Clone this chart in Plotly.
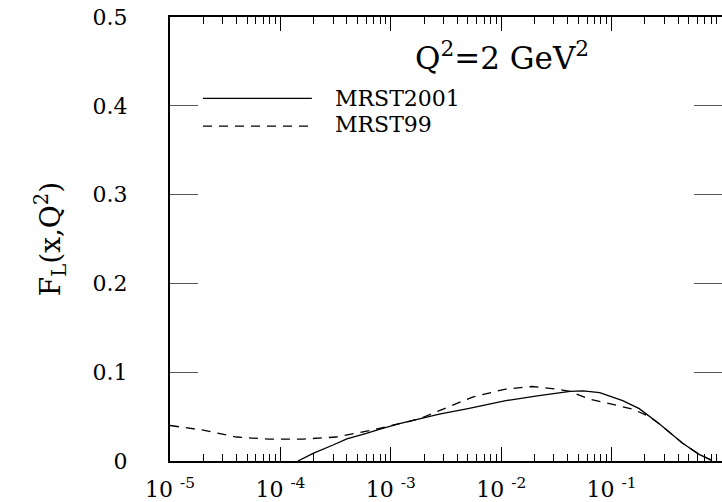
import plotly.graph_objects as go

# F_L(x, Q^2) at Q^2 = 2 GeV^2 for two parton-distribution sets
x_mrst2001 = [1.44e-4, 2.0e-4, 3.0e-4, 4.0e-4, 6.0e-4, 8.0e-4, 1.2e-3, 1.8e-3,
              2.75e-3, 5.0e-3, 1.1e-2, 2.2e-2, 4.2e-2, 5.5e-2, 7.8e-2, 0.126,
              0.178, 0.27, 0.44, 0.62, 0.80]
fl_mrst2001 = [0.0, 0.0089, 0.018, 0.025, 0.031, 0.036, 0.042, 0.0473,
               0.0529, 0.059, 0.068, 0.0735, 0.0783, 0.079, 0.077, 0.068,
               0.059, 0.042, 0.020, 0.0075, 0.001]

x_mrst99 = [1e-5, 2e-5, 4e-5, 8e-5, 1.6e-4, 3.2e-4, 6.5e-4, 1.2e-3, 1.8e-3,
            2.75e-3, 5.5e-3, 1.1e-2, 1.9e-2, 3.2e-2, 4.2e-2, 6.3e-2, 0.1,
            0.155, 0.22, 0.27, 0.44, 0.62, 0.80]
fl_mrst99 = [0.040, 0.0347, 0.027, 0.0246, 0.0246, 0.027, 0.0343, 0.042, 0.0473,
             0.0567, 0.072, 0.081, 0.0839, 0.081, 0.0783, 0.0697, 0.064,
             0.0585, 0.050, 0.042, 0.020, 0.0075, 0.001]

x_major = [1e-5, 1e-4, 1e-3, 1e-2, 1e-1, 1]
x_labels = ["10&nbsp;<sup>-5</sup>", "10&nbsp;<sup>-4</sup>", "10&nbsp;<sup>-3</sup>",
            "10&nbsp;<sup>-2</sup>", "10&nbsp;<sup>-1</sup>", "1"]
x_minor = [m * 10.0 ** e for e in range(-5, 0) for m in range(2, 10)]

y_major = [0, 0.1, 0.2, 0.3, 0.4, 0.5]
y_labels = ["0", "0.1", "0.2", "0.3", "0.4", "0.5"]

series_names = ["MRST2001", "MRST99"]
panel_title = "Q<sup>2</sup>=2 GeV<sup>2</sup>"

FONT = "DejaVu Serif"

fig = go.Figure()
fig.add_trace(go.Scatter(x=x_mrst2001, y=fl_mrst2001, mode="lines",
                         name=series_names[0],
                         line=dict(color="black", width=1.3)))
fig.add_trace(go.Scatter(x=x_mrst99, y=fl_mrst99, mode="lines",
                         name=series_names[1],
                         line=dict(color="black", width=1.3, dash="9px,7px")))
# carrier trace so the mirrored top/right axes get drawn
fig.add_trace(go.Scatter(x=x_mrst99, y=fl_mrst99, mode="lines", xaxis="x2", yaxis="y2",
                         opacity=0, hoverinfo="skip", showlegend=False))

common_x = dict(type="log", range=[-5, 0], tickvals=x_major, ticks="inside",
                ticklen=14, tickwidth=1, tickcolor="black", showgrid=False,
                zeroline=False, linecolor="black", linewidth=2, showline=True,
                minor=dict(tickvals=x_minor, ticks="inside", ticklen=7,
                           tickwidth=1, tickcolor="black", showgrid=False))

fig.update_layout(
    width=722, height=502,
    margin=dict(l=170, r=0, t=17, b=38),
    paper_bgcolor="white", plot_bgcolor="white",
    showlegend=False,
    font=dict(family=FONT, color="black"),
    xaxis=dict(**common_x, ticktext=x_labels, ticklabelstandoff=8,
               tickfont=dict(family=FONT, size=22, color="black")),
    xaxis2=dict(**common_x, overlaying="x", side="top", anchor="y",
                showticklabels=False),
    yaxis=dict(range=[0, 0.5], tickvals=y_major, ticktext=y_labels,
               ticks="inside", ticklen=28, tickwidth=1, tickcolor="#555",
               showgrid=False, zeroline=False, showline=True,
               linecolor="black", linewidth=2, ticklabelstandoff=36,
               tickfont=dict(family=FONT, size=22, color="black"),
               title=dict(text="F<sub>L</sub>(x,Q<sup>2</sup>)", standoff=24,
                          font=dict(family=FONT, size=28, color="black"))),
    yaxis2=dict(range=[0, 0.5], tickvals=y_major, overlaying="y", side="right",
                anchor="x", ticks="inside", ticklen=28, tickwidth=1,
                tickcolor="#555", showgrid=False, zeroline=False,
                showline=False, showticklabels=False),
)

# panel label
fig.add_annotation(text=panel_title, xref="paper", yref="paper", x=0.601, y=0.913,
                   showarrow=False, xanchor="center", yanchor="middle",
                   font=dict(family=FONT, size=31, color="black"))

# hand-placed key with long line samples
key_y = [0.8166, 0.754]
key_text_y = [0.817, 0.7585]
key_dash = ["solid", "9px,7px"]
for name, ly, ty, dash in zip(series_names, key_y, key_text_y, key_dash):
    fig.add_shape(type="line", xref="paper", yref="paper", x0=0.0598, x1=0.257,
                  y0=ly, y1=ly, line=dict(color="black", width=1.3, dash=dash))
    fig.add_annotation(text=name, xref="paper", yref="paper", x=0.295, y=ty,
                       showarrow=False, xanchor="left", yanchor="middle",
                       font=dict(family=FONT, size=22, color="black"))

fig.write_html("out.html")
